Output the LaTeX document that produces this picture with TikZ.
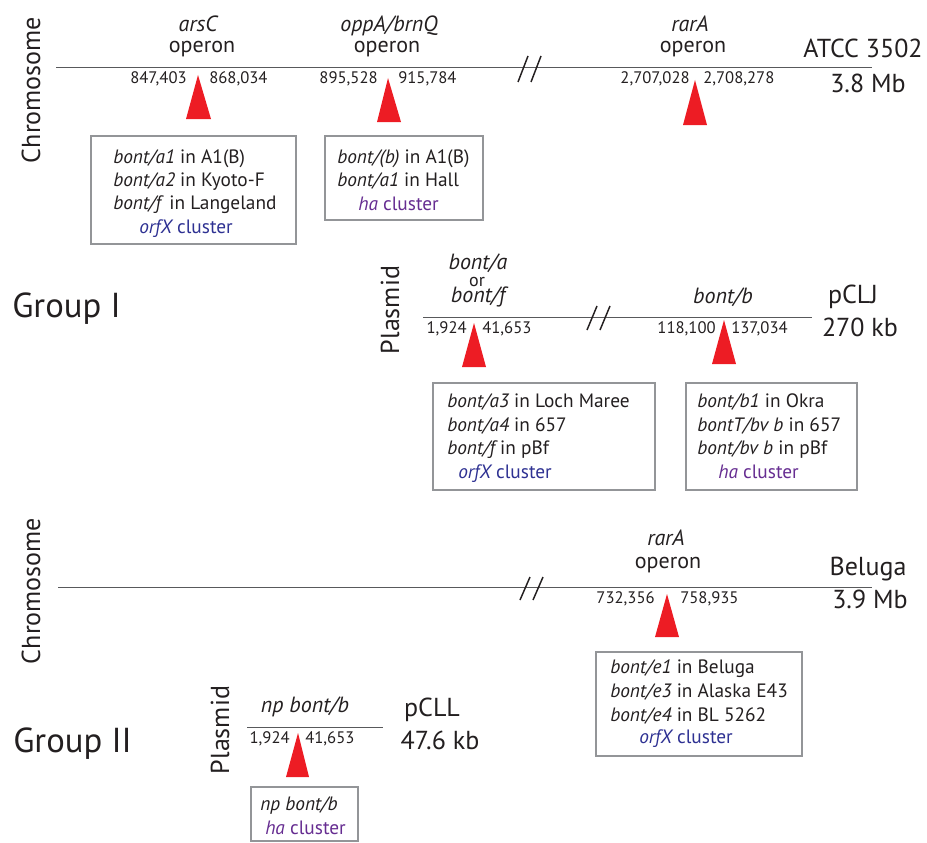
\documentclass[tikz,border=0pt]{standalone}
\usepackage{fontspec}
\setmainfont{PT Sans}
\definecolor{tred}{HTML}{ED1C24}
\definecolor{orfblue}{HTML}{2E3192}
\definecolor{hapurple}{HTML}{662D91}
\definecolor{boxgray}{HTML}{939598}
\definecolor{linegray}{HTML}{58595B}
\definecolor{txt}{HTML}{231F20}
\begin{document}
\begin{tikzpicture}[x=0.75pt,y=-0.75pt,
  every node/.style={inner sep=0pt, text=txt},
  big/.style={font=\fontsize{19.5}{22}\selectfont},
  grp/.style={font=\fontsize{26}{30}\selectfont, anchor=base west},
  lab/.style={font=\fontsize{16.5}{19}\selectfont, anchor=base},
  small/.style={font=\fontsize{13.5}{14}\selectfont, anchor=base},
  numl/.style={font=\fontsize{12.5}{14}\selectfont, anchor=base east},
  numr/.style={font=\fontsize{12.5}{14}\selectfont, anchor=base west},
  btxt/.style={font=\fontsize{14.5}{16}\selectfont, anchor=base west},
  orf/.style={btxt, text=orfblue},
  hac/.style={btxt, text=hapurple},
  chrom/.style={draw=linegray, line width=0.75pt},
  brk/.style={draw=txt, line width=1.1pt},
  tri/.style={fill=tred},
  gbox/.style={draw=boxgray, line width=1.2pt}
]
\useasboundingbox (0,0) rectangle (927,842);

% ---------- Group I chromosome ----------
\node[big, rotate=90] (chr1) at (31,90) {Chromosome};
\draw[chrom] (56,68) coordinate (c1s) -- (872,68) coordinate (c1e);
\draw[brk] (518,82) -- (528,56);
\draw[brk] (531,82) -- (541,56);
\node[lab] (arsC) at (198,32) {\itshape arsC};
\node[lab] (op1) at (202,53) {operon};
\node[lab] (opp) at (389,32) {\itshape oppA/brnQ};
\node[lab] (op2) at (387,53) {operon};
\node[lab] (rar1) at (690,32) {\itshape rarA};
\node[lab] (op3) at (693,53) {operon};
\node[big, anchor=base] (atcc) at (863,58) {ATCC 3502};
\node[big, anchor=base] (mb1) at (868,92) {3.8 Mb};
\node[numl] (n1a) at (187,84) {847,403};
\node[numr] (n1b) at (209,84) {868,034};
\node[numl] (n2a) at (378,84) {895,528};
\node[numr] (n2b) at (398,84) {915,784};
\node[numl] (n3a) at (690,84) {2,707,028};
\node[numr] (n3b) at (703,84) {2,708,278};
\fill[tri] (198,75) -- (186,119) -- (211,119) -- cycle;
\fill[tri] (388,78) -- (377,122) -- (401,122) -- cycle;
\fill[tri] (695,80) -- (683,125) -- (707,125) -- cycle;
\draw[gbox] (91,136) rectangle (296,244);
\node[btxt] (b1l1) at (113,163) {\itshape bont/a1\upshape{} in A1(B)};
\node[btxt] (b1l2) at (113,186) {\itshape bont/a2\upshape{} in Kyoto-F};
\node[btxt] (b1l3) at (113,209) {\itshape bont/f\upshape{}\, in Langeland};
\node[orf] (b1l4) at (139,233) {\itshape orfX\upshape{} cluster};
\draw[gbox] (325,136) rectangle (483,220);
\node[btxt] (b2l1) at (337,163) {\itshape bont/(b)\upshape{} in A1(B)};
\node[btxt] (b2l2) at (337,186) {\itshape bont/a1\upshape{} in Hall};
\node[hac] (b2l3) at (358,210) {\itshape ha\upshape{} cluster};

% ---------- Group I plasmid ----------
\node[grp] (g1) at (12,317) {Group I};
\node[big, rotate=90] (pl1) at (390,310) {Plasmid};
\draw[chrom] (423,317) coordinate (p1s) -- (812,317) coordinate (p1e);
\draw[brk] (587,330) -- (597,306);
\draw[brk] (600,330) -- (610,306);
\node[lab] (ba) at (478,269) {\itshape bont/a};
\node[small] (or) at (477,286) {or};
\node[lab] (bf) at (478,302) {\itshape bont/f};
\node[lab] (bb) at (723,303) {\itshape bont/b};
\node[big, anchor=base] (pclj) at (853,303) {pCLJ};
\node[big, anchor=base] (kb1) at (860,336) {270 kb};
\node[numl] (n4a) at (467,333) {1,924};
\node[numr] (n4b) at (482,333) {41,653};
\node[numl] (n5a) at (716,333) {118,100};
\node[numr] (n5b) at (731,333) {137,034};
\fill[tri] (474,323) -- (462,367) -- (486,367) -- cycle;
\fill[tri] (724,320) -- (712,364) -- (736,364) -- cycle;
\draw[gbox] (433,383) rectangle (655,490);
\node[btxt] (b3l1) at (447,407) {\itshape bont/a3\upshape{} in Loch Maree};
\node[btxt] (b3l2) at (447,431) {\itshape bont/a4\upshape{} in 657};
\node[btxt] (b3l3) at (447,454) {\itshape bont/f\upshape{} in pBf};
\node[orf] (b3l4) at (458,478) {\itshape orfX\upshape{} cluster};
\draw[gbox] (686,383) rectangle (857,490);
\node[btxt] (b4l1) at (697,407) {\itshape bont/b1\upshape{} in Okra};
\node[btxt] (b4l2) at (697,431) {\itshape bontT/bv b\upshape{} in 657};
\node[btxt] (b4l3) at (697,454) {\itshape bont/bv b\upshape{} in pBf};
\node[hac] (b4l4) at (718,478) {\itshape ha\upshape{} cluster};

% ---------- Group II chromosome ----------
\node[big, rotate=90] (chr2) at (31,591) {Chromosome};
\draw[chrom] (58,587) coordinate (c2s) -- (872,587) coordinate (c2e);
\draw[brk] (520,600) -- (530,577);
\draw[brk] (533,600) -- (543,577);
\node[lab] (rar2) at (666,545) {\itshape rarA};
\node[lab] (op4) at (668,568) {operon};
\node[big, anchor=base] (bel) at (868,575) {Beluga};
\node[big, anchor=base] (mb2) at (870,608) {3.9 Mb};
\node[numl] (n6a) at (655,603) {732,356};
\node[numr] (n6b) at (680,603) {758,935};
\fill[tri] (667,594) -- (655,637) -- (679,637) -- cycle;
\draw[gbox] (596,652) rectangle (802,756);
\node[btxt] (b5l1) at (610,673) {\itshape bont/e1\upshape{} in Beluga};
\node[btxt] (b5l2) at (610,697) {\itshape bont/e3\upshape{} in Alaska E43};
\node[btxt] (b5l3) at (610,721) {\itshape bont/e4\upshape{} in BL 5262};
\node[orf] (b5l4) at (639,743) {\itshape orfX\upshape{} cluster};

% ---------- Group II plasmid ----------
\node[grp] (g2) at (13,752) {Group II};
\node[big, rotate=90] (pl2) at (220,730) {Plasmid};
\draw[chrom] (247,727) coordinate (p2s) -- (383,727) coordinate (p2e);
\node[lab] (npb) at (305,712) {\itshape np bont/b};
\node[big, anchor=base] (pcll) at (432,716) {pCLL};
\node[big, anchor=base] (kb2) at (440,749) {47.6 kb};
\node[numl] (n7a) at (290,743) {1,924};
\node[numr] (n7b) at (305,743) {41,653};
\fill[tri] (298,733) -- (286,777) -- (309,777) -- cycle;
\draw[gbox] (251,787) rectangle (358,841);
\node[btxt] (b6l1) at (260,810) {\itshape np bont/b};
\node[hac] (b6l2) at (265,834) {\itshape ha\upshape{} cluster};
\end{tikzpicture}
\end{document}
